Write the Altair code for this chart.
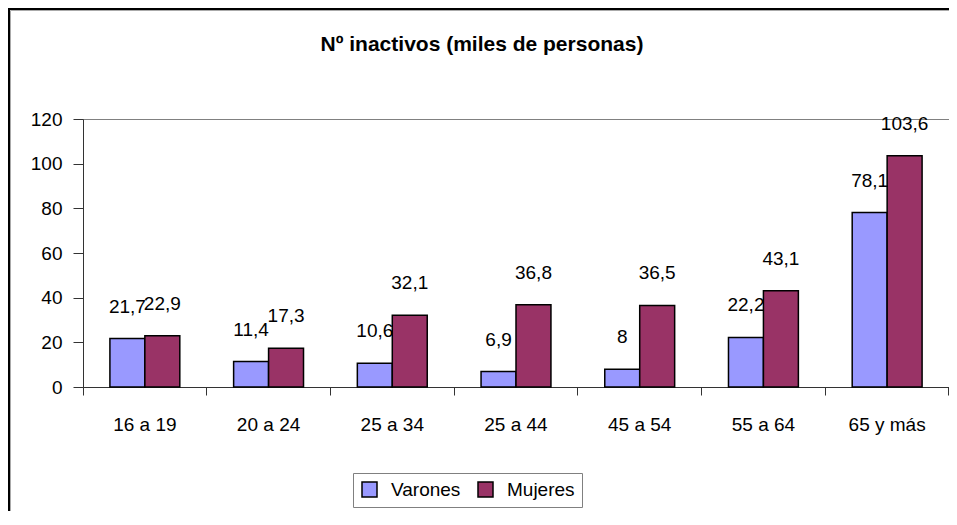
import altair as alt
import pandas as pd

categories = ["16 a 19", "20 a 24", "25 a 34", "25 a 44", "45 a 54", "55 a 64", "65 y más"]
varones = [21.7, 11.4, 10.6, 6.9, 8.0, 22.2, 78.1]
mujeres = [22.9, 17.3, 32.1, 36.8, 36.5, 43.1, 103.6]
series = ["Varones", "Mujeres"]
colors = ["#9999FF", "#993366"]
y_ticks = [0, 20, 40, 60, 80, 100, 120]
title_text = "Nº inactivos (miles de personas)"

FONT = "Liberation Sans, Arial, sans-serif"

def fmt(v):
    s = ("%.1f" % v).rstrip("0").rstrip(".")
    return s.replace(".", ",")

rows = []
for i, c in enumerate(categories):
    rows.append({"cat": c, "serie": "Varones", "valor": varones[i], "label": fmt(varones[i])})
    rows.append({"cat": c, "serie": "Mujeres", "valor": mujeres[i], "label": fmt(mujeres[i])})
df = pd.DataFrame(rows)

W, H = 866, 268

x_enc = alt.X(
    "cat:N",
    sort=categories,
    title=None,
    scale=alt.Scale(paddingInner=0, paddingOuter=0),
    axis=alt.Axis(
        bandPosition=1,
        tickExtra=True,
        tickSize=8,
        labelPadding=20,
        labelAngle=0,
        labelFont=FONT,
        labelFontSize=19,
        labelColor="black",
        domainColor="#333333",
        tickColor="#333333",
        grid=False,
    ),
)
xoff_enc = alt.XOffset("serie:N", sort=series, scale=alt.Scale(paddingInner=0, paddingOuter=0.77))
y_enc = alt.Y(
    "valor:Q",
    title=None,
    scale=alt.Scale(domain=[0, 120], nice=False),
    axis=alt.Axis(
        values=y_ticks,
        tickSize=10,
        labelPadding=11,
        labelFont=FONT,
        labelFontSize=19,
        labelColor="black",
        domainColor="#333333",
        tickColor="#333333",
        grid=False,
    ),
)

base = alt.Chart(df)

bars = base.mark_bar(stroke="black", strokeWidth=1.5).encode(
    x=x_enc,
    xOffset=xoff_enc,
    y=y_enc,
    color=alt.Color(
        "serie:N",
        sort=series,
        scale=alt.Scale(domain=series, range=colors),
        legend=alt.Legend(
            title=None,
            orient="none",
            legendX=270,
            legendY=354,
            direction="horizontal",
            strokeColor="#808080",
            padding=7,
            symbolType="square",
            symbolSize=225,
            symbolStrokeColor="black",
            symbolStrokeWidth=1.5,
            labelFont=FONT,
            labelFontSize=19,
            labelColor="black",
            labelOffset=12,
            columnPadding=14,
        ),
    ),
)

labels = base.mark_text(dy=-32, baseline="middle", align="center", font=FONT, fontSize=19, color="black").encode(
    x=alt.X("cat:N", sort=categories),
    xOffset=alt.XOffset("serie:N", sort=series),
    y=alt.Y("valor:Q"),
    text="label:N",
)

title_df = pd.DataFrame({"t": [title_text]})
title = alt.Chart(title_df).mark_text(
    font=FONT, fontSize=21, fontWeight="bold", color="black", baseline="middle", align="center"
).encode(x=alt.value(399), y=alt.value(-74), text="t:N")

frame_shadow = alt.Chart(title_df).mark_rect(fill="transparent", stroke="#aaaaaa", strokeWidth=1).encode(
    x=alt.value(-72.5), x2=alt.value(W + 60), y=alt.value(-108.5), y2=alt.value(H + 200)
)
frame = alt.Chart(title_df).mark_rect(fill="transparent", stroke="black", strokeWidth=2).encode(
    x=alt.value(-74), x2=alt.value(W + 60), y=alt.value(-110), y2=alt.value(H + 200)
)
right_tick = alt.Chart(title_df).mark_rule(color="#333333", strokeWidth=1).encode(
    x=alt.value(W - 0.5), y=alt.value(H), y2=alt.value(H + 8)
)

chart = alt.layer(
    frame_shadow, frame, bars, labels, title, right_tick
).properties(
    width=W,
    height=H,
    autosize=alt.AutoSizeParams(type="none"),
    padding={"left": 75, "top": 111, "right": 0, "bottom": 124},
    background="white",
).configure_view(
    stroke="#808080", strokeWidth=1
)

chart.save("out.html", embed_options={"renderer": "svg", "actions": False})
